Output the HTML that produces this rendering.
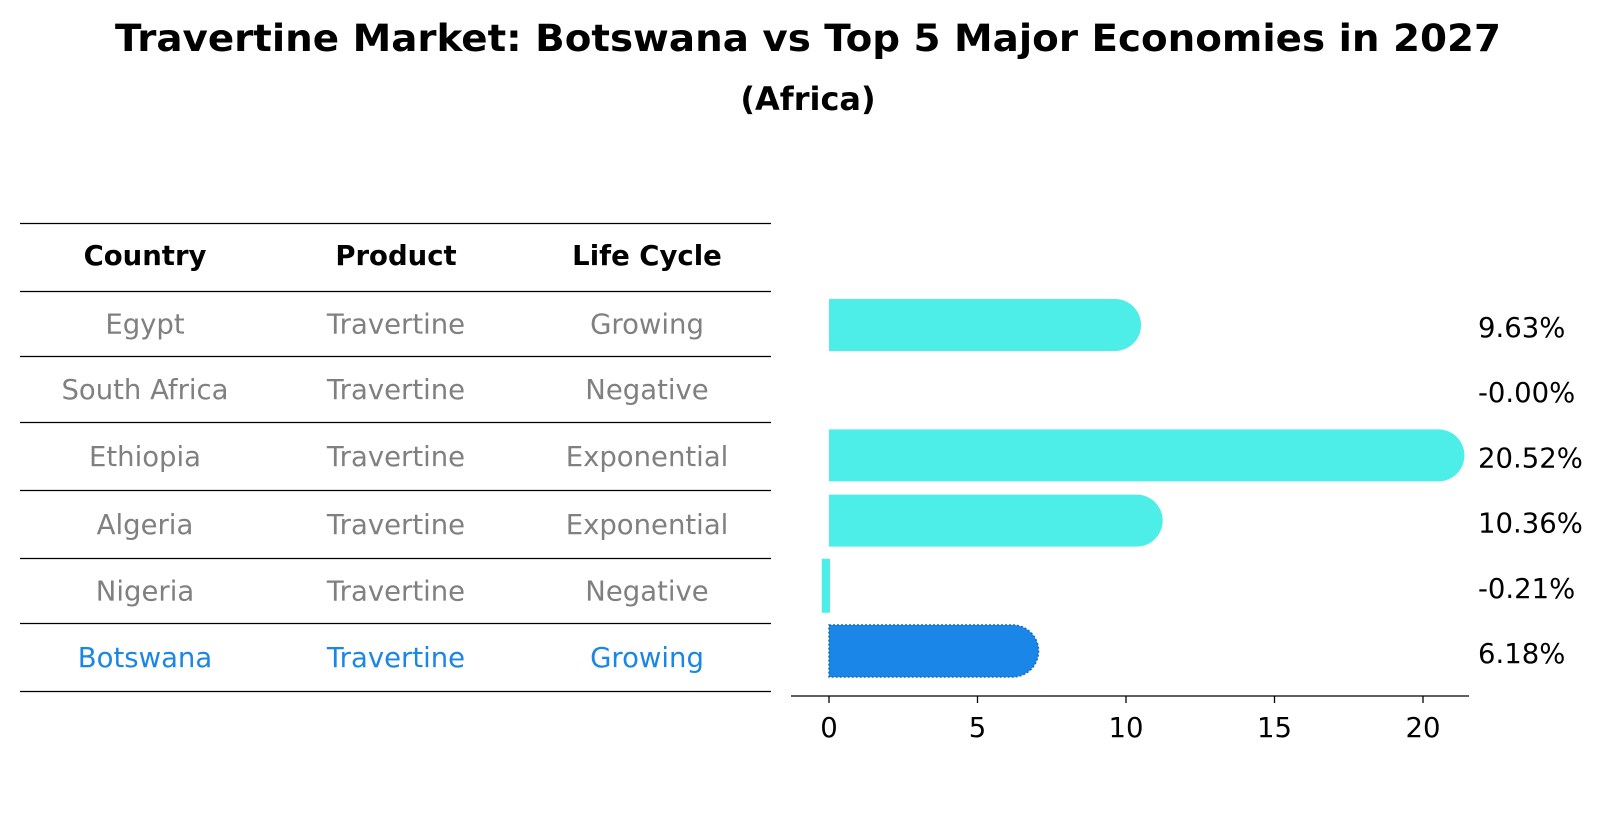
<!DOCTYPE html>
<html><head><meta charset="utf-8"><style>
body{margin:0;background:#fff;}
svg text{font-family:"DejaVu Sans","Liberation Sans",sans-serif;}
</style></head><body>
<svg id="chart" width="1604" height="823" viewBox="0 0 1604 823" xmlns="http://www.w3.org/2000/svg">
<text x="808" y="51" text-anchor="middle" font-size="37" font-weight="bold" textLength="1386" lengthAdjust="spacingAndGlyphs">Travertine Market: Botswana vs Top 5 Major Economies in 2027</text>
<text x="808" y="110" text-anchor="middle" font-size="32" font-weight="bold">(Africa)</text>
<g id="table"></g>
<g id="bars"></g>
</svg>
<script>
const countries=["Egypt","South Africa","Ethiopia","Algeria","Nigeria","Botswana"];
const products=["Travertine","Travertine","Travertine","Travertine","Travertine","Travertine"];
const lifeCycles=["Growing","Negative","Exponential","Exponential","Negative","Growing"];
const values=[9.63,-0.00,20.52,10.36,-0.21,6.18];
const valueLabels=["9.63%","-0.00%","20.52%","10.36%","-0.21%","6.18%"];
const ticks=[0,5,10,15,20];

const NS="http://www.w3.org/2000/svg";
const FS=27.5;
function mk(tag,attrs,parent,text){const e=document.createElementNS(NS,tag);for(const k in attrs)e.setAttribute(k,attrs[k]);if(text!==undefined)e.textContent=text;parent.appendChild(e);return e;}
const tbl=document.getElementById('table');
const bars=document.getElementById('bars');
const lineYs=[223,291,356,422,490,558,623,691];
const colX=[145,396,647];
lineYs.forEach((y)=>{
 const l=mk('line',{x1:20,x2:771,y1:y+0.5,y2:y+0.5,stroke:'#000','stroke-width':1.2},tbl);
 
 
});
const heads=["Country","Product","Life Cycle"];
heads.forEach((h,j)=>{
 const t=mk('text',{x:colX[j],y:265,'text-anchor':'middle','font-size':FS,'font-weight':'bold',fill:'#000'},tbl,h);
 
 
});
countries.forEach((c,i)=>{
 const cy=(lineYs[i+1]+lineYs[i+2])/2+10;
 const col=c==="Botswana"?'#1a86e8':'#808080';
 [c,products[i],lifeCycles[i]].forEach((v,j)=>{
  const t=mk('text',{x:colX[j],y:cy,'text-anchor':'middle','font-size':FS,fill:col},tbl,v);
  
  
 });
});
const x0=829, pxPerUnit=29.7;
const xs=v=>x0+v*pxPerUnit;
const rowY=i=>325+i*65.2;
const bh=52;
values.forEach((v,i)=>{
 const cy=rowY(i);
 const isB=countries[i]==="Botswana";
 const col=isB?'#1a86e8':'#4deee8';
 const x1=xs(Math.min(0,v)),x2=xs(Math.max(0,v));
 const r=bh/2;
 let d;
 if(v>0.05){
  d=`M${x1},${cy-r} L${x2},${cy-r} A${r},${r} 0 0 1 ${x2},${cy+r} L${x1},${cy+r} Z`;
 } else {
  d=`M${x1},${cy-r} L${x2},${cy-r} L${x2},${cy+r} L${x1},${cy+r} Z`;
 }
 const p=mk('path',{d:d,fill:col,stroke:isB?'#1569c0':(v<0?col:'none'),'stroke-width':isB?1.5:2,'stroke-dasharray':isB?'2,2':''},bars);
 
 
 const t=mk('text',{x:1478,y:cy+12,'font-size':FS,fill:'#000'},bars,valueLabels[i]);
 
 
});
const ax=mk('line',{x1:791,x2:1469,y1:696,y2:696,stroke:'#000','stroke-width':1.3},bars);


ticks.forEach(t=>{
 const tl=mk('line',{x1:xs(t),x2:xs(t),y1:696,y2:703,stroke:'#000','stroke-width':1.3},bars);
 
 
 const tx=mk('text',{x:xs(t),y:737,'text-anchor':'middle','font-size':FS,fill:'#000'},bars,String(t));
 
 
});
</script>
</body></html>
